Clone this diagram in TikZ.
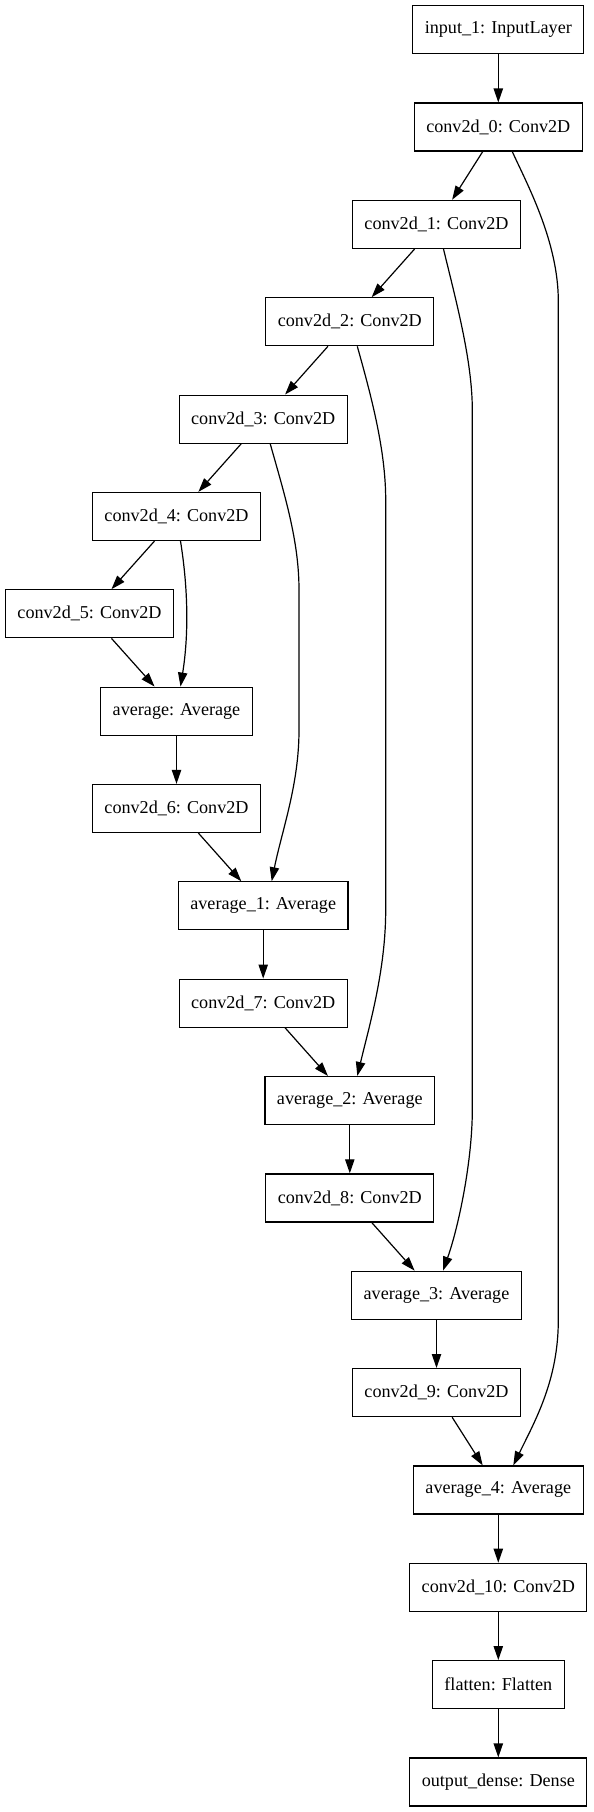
\documentclass[tikz,border=0pt]{standalone}
\usepackage{fontspec}
\setmainfont{Liberation Serif}
\usepackage{tikz}
\usetikzlibrary{arrows.meta}
\usetikzlibrary{calc}
\tikzstyle{layer}=[draw,rectangle,line width=0.9pt,minimum height=36pt,inner xsep=9pt,font=\fontsize{13.6pt}{16pt}\selectfont]
\tikzstyle{edge}=[-{Triangle[length=10.5pt,width=7pt]},line width=0.9pt]

\begin{document}
\begin{tikzpicture}[x=0.75pt,y=-0.75pt]
\useasboundingbox (0,0) rectangle (593,1812);
\node[layer] at (498.3,29.7)(in){input\_1: InputLayer};
\node[layer] at (498.3,127.05)(c0){conv2d\_0: Conv2D};
\node[layer] at (436.5,224.4)(c1){conv2d\_1: Conv2D};
\node[layer] at (349.8,321.75)(c2){conv2d\_2: Conv2D};
\node[layer] at (263.2,419.1)(c3){conv2d\_3: Conv2D};
\node[layer] at (176.5,516.45)(c4){conv2d\_4: Conv2D};
\node[layer] at (89.5,613.8)(c5){conv2d\_5: Conv2D};
\node[layer] at (176.5,711.15)(avg){average: Average};
\node[layer] at (176.5,808.5)(c6){conv2d\_6: Conv2D};
\node[layer] at (263.2,905.85)(avg1){average\_1: Average};
\node[layer] at (263.2,1003.2)(c7){conv2d\_7: Conv2D};
\node[layer] at (349.8,1100.55)(avg2){average\_2: Average};
\node[layer] at (349.8,1197.9)(c8){conv2d\_8: Conv2D};
\node[layer] at (436.5,1295.25)(avg3){average\_3: Average};
\node[layer] at (436.5,1392.6)(c9){conv2d\_9: Conv2D};
\node[layer] at (498.3,1489.95)(avg4){average\_4: Average};
\node[layer] at (498.3,1587.3)(c10){conv2d\_10: Conv2D};
\node[layer] at (498.3,1684.65)(flat){flatten: Flatten};
\node[layer] at (498.3,1782)(out){output\_dense: Dense};

\foreach \a/\b in {in/c0,c0/c1,c1/c2,c2/c3,c3/c4,c4/c5,c5/avg,avg/c6,c6/avg1,avg1/c7,c7/avg2,avg2/c8,c8/avg3,avg3/c9,c9/avg4,avg4/c10,c10/flat,flat/out}
  {\draw[edge] (\a)--(\b);}

\draw[edge] ($(c4.south)+(4,0)$) .. controls +(8,50) and +(8,-50) .. ($(avg.north)+(4,0)$);
\draw[edge] ($(c3.south)+(7,0)$) .. controls +(14,50) and +(0,-50) .. (299,590) -- (299,730) .. controls +(0,55) and +(10,-50) .. ($(avg1.north)+(8.5,0)$);
\draw[edge] ($(c2.south)+(7.5,0)$) .. controls +(14,50) and +(0,-50) .. (385.7,500) -- (385.7,910) .. controls +(0,60) and +(12,-50) .. ($(avg2.north)+(7.5,0)$);
\draw[edge] ($(c1.south)+(7,0)$) .. controls +(12,50) and +(0,-50) .. (472.3,410) -- (472.3,1110) .. controls +(0,50) and +(16,-45) .. ($(avg3.north)+(6.5,0)$);
\draw[edge] ($(c0.south)+(14,0)$) .. controls +(14,31) and +(0,-60) .. (558.3,301) -- (558.3,1320) .. controls +(0,60) and +(22,-45) .. ($(avg4.north)+(15,0)$);
\end{tikzpicture}
\end{document}
